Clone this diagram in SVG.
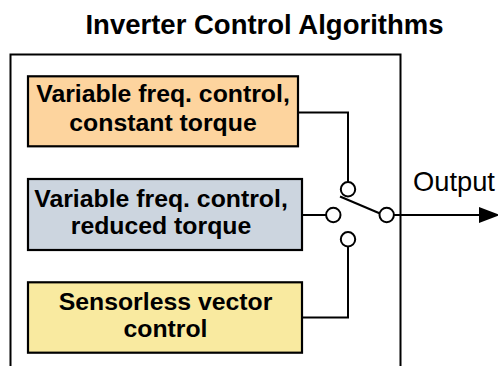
<svg xmlns="http://www.w3.org/2000/svg" width="498" height="366" viewBox="0 0 498 366">
<defs>
<style>
.box{stroke:#000;stroke-width:2.2}
.t{font-family:"Liberation Sans",Arial,sans-serif;font-weight:bold;font-size:24.8px;text-anchor:middle;fill:#000}
.ln{fill:none;stroke:#000;stroke-width:2}
.c{fill:#fff;stroke:#000;stroke-width:2}
</style>
</defs>
<rect width="498" height="366" fill="#fff"/>
<text x="264.5" y="34" font-family="Liberation Sans,Arial,sans-serif" font-weight="bold" font-size="27.5" text-anchor="middle">Inverter Control Algorithms</text>
<path class="ln" d="M10.5,366 V54.5 H400.5 V366"/>
<g id="connectors">
<path class="ln" d="M298,112.5 H348 V182"/>
<path class="ln" d="M302,215 H326"/>
<path class="ln" d="M348,246.5 V317.5 H302"/>
<path class="ln" d="M340,196.5 L380,213.5"/>
<path class="ln" d="M394,215 H480"/>
<path d="M479,207 L500,215 L479,223 Z" fill="#000"/>
</g>
<g id="switch">
<circle class="c" cx="348" cy="189.3" r="7.2"/>
<circle class="c" cx="333.3" cy="215" r="7.2"/>
<circle class="c" cx="348" cy="239.3" r="7.2"/>
<circle class="c" cx="386.7" cy="215" r="7.2"/>
</g>
<g id="node1">
<rect class="box" x="28" y="76.3" width="270" height="70" fill="#fdd49e"/>
<text class="t" x="163" y="101.7">Variable freq. control,</text>
<text class="t" x="163" y="131">constant torque</text>
</g>
<g id="node2">
<rect class="box" x="28" y="179" width="274" height="71" fill="#ccd5df"/>
<text class="t" x="161" y="207.3">Variable freq. control,</text>
<text class="t" x="161" y="234.3">reduced torque</text>
</g>
<g id="node3">
<rect class="box" x="28" y="282.3" width="274" height="70.4" fill="#f9eaa0"/>
<text class="t" x="165.5" y="310">Sensorless vector</text>
<text class="t" x="165.5" y="337.3">control</text>
</g>
<text x="413" y="190.7" font-family="Liberation Sans,Arial,sans-serif" font-size="27.3" fill="#000">Output</text>
</svg>
